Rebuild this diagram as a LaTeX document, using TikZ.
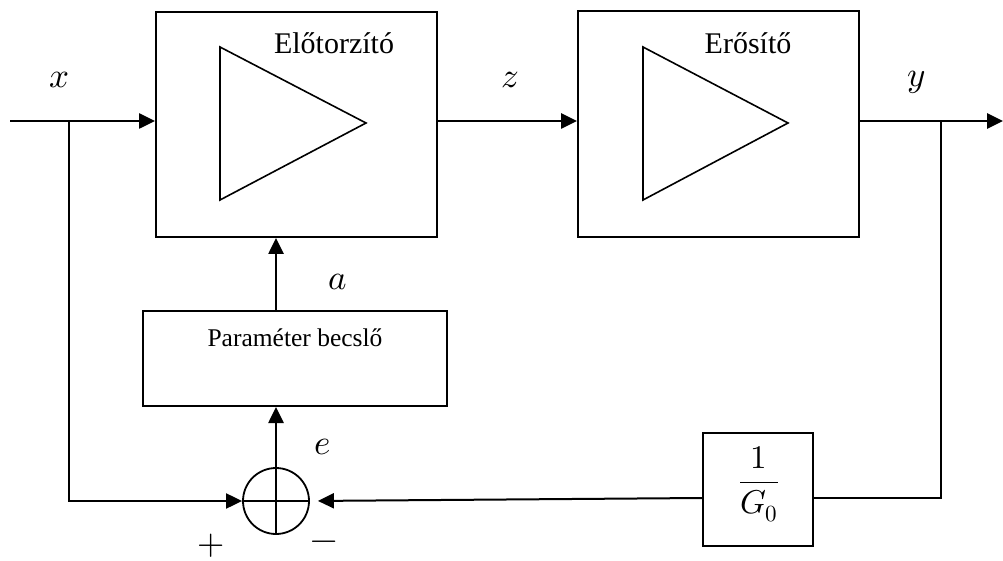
\documentclass[tikz,border=0pt]{standalone}
\usepackage{fontspec}
\usepackage{unicode-math}
\setmainfont{Liberation Serif}
\setmathfont{Latin Modern Math}
\usetikzlibrary{arrows.meta}
\begin{document}
\begin{tikzpicture}[x=1pt,y=-1pt,
  blk/.style={draw,line width=2pt,inner sep=0pt},
  conn/.style={line width=2.6pt},
  thin conn/.style={line width=2pt},
  arr/.style={-{Triangle[length=16pt,width=15pt]}},
  amp/.style={line width=1.6pt,line join=miter},
  lbl/.style={font=\fontsize{30}{36}\selectfont},
  mlbl/.style={font=\fontsize{35}{42}\selectfont,inner sep=0pt}]
\useasboundingbox (0,0) rectangle (1003,561);
% blocks
\node[blk,minimum width=281pt,minimum height=225pt] (box1) at (296.5,124.5) {};
\node[blk,minimum width=281pt,minimum height=226pt] (box2) at (718.5,124) {};
\node[blk,minimum width=304pt,minimum height=95pt] (pb) at (295,358.5) {};
\node[font=\fontsize{25.5}{30}\selectfont,inner sep=0pt] (pbt) at (295,338) {Paraméter becslő};
\node[blk,minimum width=110pt,minimum height=113pt] (g) at (758,489.5) {};
\node[font=\fontsize{33}{40}\selectfont,inner sep=0pt] (gt) at (759,484) {$\dfrac{1}{G_0}$};
\node[draw,circle,line width=1.8pt,minimum size=66pt,inner sep=0pt] (sum) at (276,501) {};
\draw[line width=1.6pt] (sum.north) -- (sum.south) (sum.west) -- (sum.east);
% amplifier triangles
\draw[amp] (220,47) -- (366,123) -- (220,200) -- cycle;
\draw[amp] (643,47) -- (788,123) -- (643,200) -- cycle;
% titles
\node[lbl,inner sep=0pt] (t1) at (334,43) {Előtorzító};
\node[lbl,inner sep=0pt] (t2) at (748,43) {Erősítő};
% coordinates
\coordinate (xin) at (10,121);
\coordinate (bx) at (69,121);
\coordinate (xout) at (1003,121);
\coordinate (by) at (941,121);
\coordinate (gy) at (941,498);
% connectors
\draw[conn,arr] (xin) -- (xin -| box1.west);
\draw[thin conn,arr] (bx) |- (sum.west);
\draw[conn,arr] (box1.east |- xin) -- (box2.west |- xin);
\draw[conn,arr] (box2.east |- xin) -- (xout);
\draw[thin conn] (by) -- (gy) -- (gy -| g.east);
\draw[thin conn,arr,shorten >=8pt] (gy -| g.west) -- (sum.east);
\draw[conn,arr] (sum.north) -- (pb.south -| sum.north);
\draw[conn,arr] (sum.north |- pb.north) -- (sum.north |- box1.south);
% labels
\node[mlbl] (lx) at (60,80) {$x$};
\node[mlbl] (lz) at (510,80) {$z$};
\node[mlbl] (ly) at (917,82) {$y$};
\node[mlbl] (la) at (338,282) {$a$};
\node[mlbl] (le) at (323,447) {$e$};
\node[mlbl] (lp) at (211,546) {$+$};
\node[mlbl] (lm) at (324,546) {$-$};
\end{tikzpicture}
\end{document}
